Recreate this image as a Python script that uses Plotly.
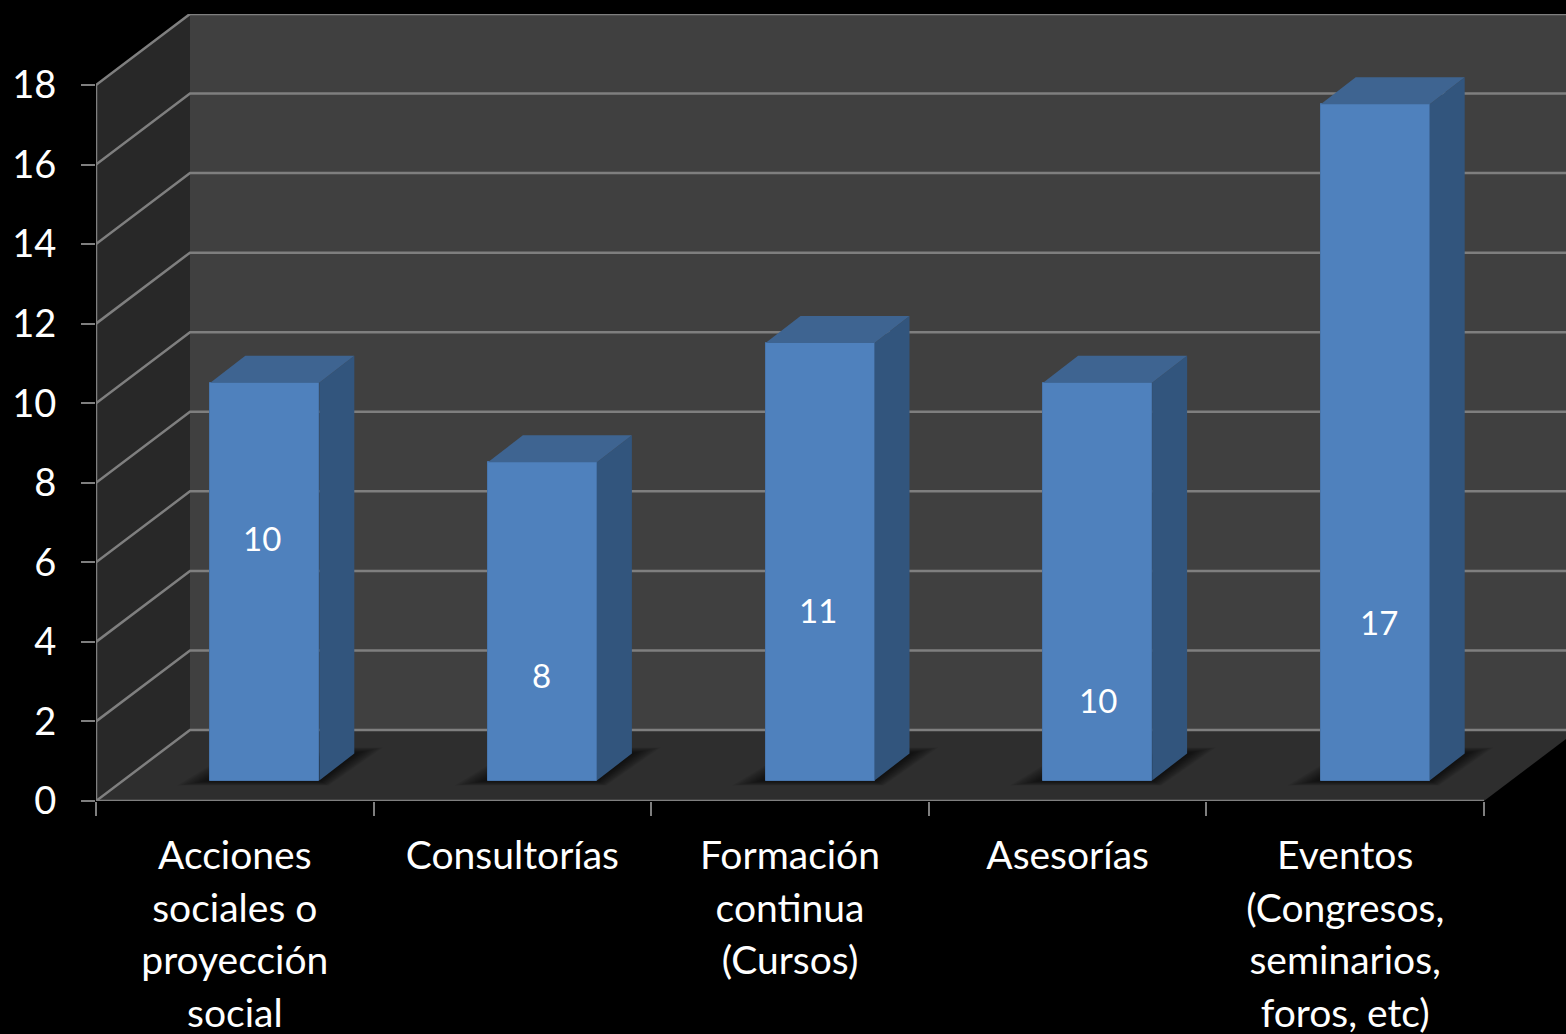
import plotly.graph_objects as go

categories = ["Acciones<br>sociales o<br>proyección<br>social", "Consultorías",
              "Formación<br>continua<br>(Cursos)", "Asesorías",
              "Eventos<br>(Congresos,<br>seminarios,<br>foros, etc)"]
values = [10, 8, 11, 10, 17]
y_ticks = [0, 2, 4, 6, 8, 10, 12, 14, 16, 18]
label_heights = [6.6, 3.17, 4.8, 2.54, 4.5]
label_shifts = [-0.01, -0.004, -0.007, 0.0, 0.014]

FONT = "Lato"
W, H = 1566, 1034
L, R, T, B = 96, 0, 14, 233
UX = 277.6      # px per category
UY = 39.78      # px per value unit
px = lambda p: p / UX
py = lambda p: p / UY
x_lo = -0.5
x_hi = x_lo + (W - L - R) / UX
y_hi = (H - T - B) / UY
wall_dx, wall_dy = px(94), py(71)
bar_dx, bar_dy = px(35), py(27)
bar_base = py(20.5)
bar_w = px(109)
bar_shift = px(30)
positions = list(range(len(values)))


def path(pts):
    return "M " + " L ".join(f"{a},{b}" for a, b in pts) + " Z"


shapes = []


def poly(pts, color, opacity=1.0):
    shapes.append(dict(type="path", path=path(pts), fillcolor=color, opacity=opacity,
                       line=dict(width=0), layer="below", xref="x", yref="y"))


def seg(pts, color="#7f7f7f", width=2.5):
    d = "M " + " L ".join(f"{a},{b}" for a, b in pts)
    shapes.append(dict(type="path", path=d, line=dict(color=color, width=width),
                       layer="below", xref="x", yref="y"))


top = max(y_ticks)
x_end = max(positions) + 0.5
# back wall, side wall, floor
poly([(x_lo + wall_dx, wall_dy), (x_hi, wall_dy), (x_hi, top + wall_dy), (x_lo + wall_dx, top + wall_dy)], "#404040")
poly([(x_lo, 0), (x_lo + wall_dx, wall_dy), (x_lo + wall_dx, top + wall_dy), (x_lo, top)], "#282828")
poly([(x_lo, 0), (x_end, 0), (x_hi, (x_hi - x_end) * wall_dy / wall_dx), (x_hi, wall_dy), (x_lo + wall_dx, wall_dy)], "#2e2e2e")

# gridlines across side wall and back wall
for v in y_ticks:
    seg([(x_lo, v), (x_lo + wall_dx, v + wall_dy), (x_hi, v + wall_dy)])

# soft shadows on the floor
for p in positions:
    x0 = p + bar_shift - bar_w / 2
    x1 = x0 + bar_w
    for grow in [30, 27, 24, 21, 18, 15, 12, 9, 6, 3]:
        poly([(x0 - px(grow * 1.1), bar_base - py(grow / 6)),
              (x1 + px(grow * 0.3), bar_base - py(grow / 6)),
              (x1 + bar_dx + px(grow * 0.95), bar_base + bar_dy + py(grow / 5)),
              (x1 + bar_dx, bar_base + bar_dy + py(grow / 5)),
              (x0, bar_base + py(grow * 0.5))], "#000000", 0.08)

fig = go.Figure()

# front faces
fig.add_trace(go.Bar(x=positions, y=values, base=[bar_base] * len(values),
                     width=bar_w, offset=bar_shift - bar_w / 2,
                     marker=dict(color="#4f81bd", line=dict(color="#4876ad", width=1)),
                     hoverinfo="skip", showlegend=False))

# side and top faces from the same values
for p, v in zip(positions, values):
    x0 = p + bar_shift - bar_w / 2
    x1 = x0 + bar_w
    ytop = v + bar_base
    fig.add_trace(go.Scatter(
        x=[x1, x1 + bar_dx, x1 + bar_dx, x1, x1],
        y=[bar_base, bar_base + bar_dy, ytop + bar_dy, ytop, bar_base],
        mode="lines", fill="toself", fillcolor="#32557d", line=dict(width=0),
        hoverinfo="skip", showlegend=False))
    fig.add_trace(go.Scatter(
        x=[x0, x0 + bar_dx, x1 + bar_dx, x1, x0],
        y=[ytop, ytop + bar_dy, ytop + bar_dy, ytop, ytop],
        mode="lines", fill="toself", fillcolor="#3e6491", line=dict(width=0),
        hoverinfo="skip", showlegend=False))

# axis lines stop at the front plane
fig.add_trace(go.Scatter(x=[x_lo, x_end], y=[0, 0], mode="lines", cliponaxis=False,
                         line=dict(color="#7f7f7f", width=2.5), hoverinfo="skip", showlegend=False))
fig.add_trace(go.Scatter(x=[x_lo, x_lo], y=[0, top], mode="lines", cliponaxis=False,
                         line=dict(color="#7f7f7f", width=2.5), hoverinfo="skip", showlegend=False))

annotations = [dict(x=p + bar_shift + s, y=h, text=str(v), showarrow=False,
                    font=dict(family=FONT, size=33, color="#ffffff"))
               for p, v, h, s in zip(positions, values, label_heights, label_shifts)]

# glyphs at 39 px on the 52.5 px line pitch of a 40.4 px axis font
tick_text = ["<br>".join(f'<span style="font-size:39px">{line}</span>' for line in c.split("<br>"))
             for c in categories]

fig.update_layout(
    width=W, height=H, autosize=False,
    margin=dict(l=L, r=R, t=T, b=B, pad=0),
    paper_bgcolor="#000000", plot_bgcolor="#000000",
    font=dict(family=FONT, color="#ffffff", size=39),
    shapes=shapes, annotations=annotations, showlegend=False, bargap=0,
    xaxis=dict(range=[x_lo, x_hi], tickmode="array", tickvals=positions, ticktext=tick_text,
               automargin=False,
               showgrid=False, zeroline=False, showline=False, ticks="", ticklen=0,
               ticklabelstandoff=27, tickangle=0,
               tickfont=dict(family=FONT, size=40.4, color="#ffffff"),
               minor=dict(tickmode="array", tickvals=[p - 0.5 for p in positions] + [x_end],
                          ticks="outside", ticklen=14, tickwidth=2, tickcolor="#7f7f7f", showgrid=False)),
    yaxis=dict(range=[0, y_hi], tickmode="array", tickvals=y_ticks,
               automargin=False,
               showgrid=False, zeroline=False, showline=False,
               ticks="outside", ticklen=14, tickwidth=2, tickcolor="#7f7f7f",
               ticklabelstandoff=17,
               tickfont=dict(family=FONT, size=38, color="#ffffff")),
)

fig.write_html("out.html", config=dict(displayModeBar=False),
               post_script="document.documentElement.style.background='#000';"
                           "document.body.style.margin='0';document.body.style.background='#000';"
                           "document.body.style.overflow='hidden';")
